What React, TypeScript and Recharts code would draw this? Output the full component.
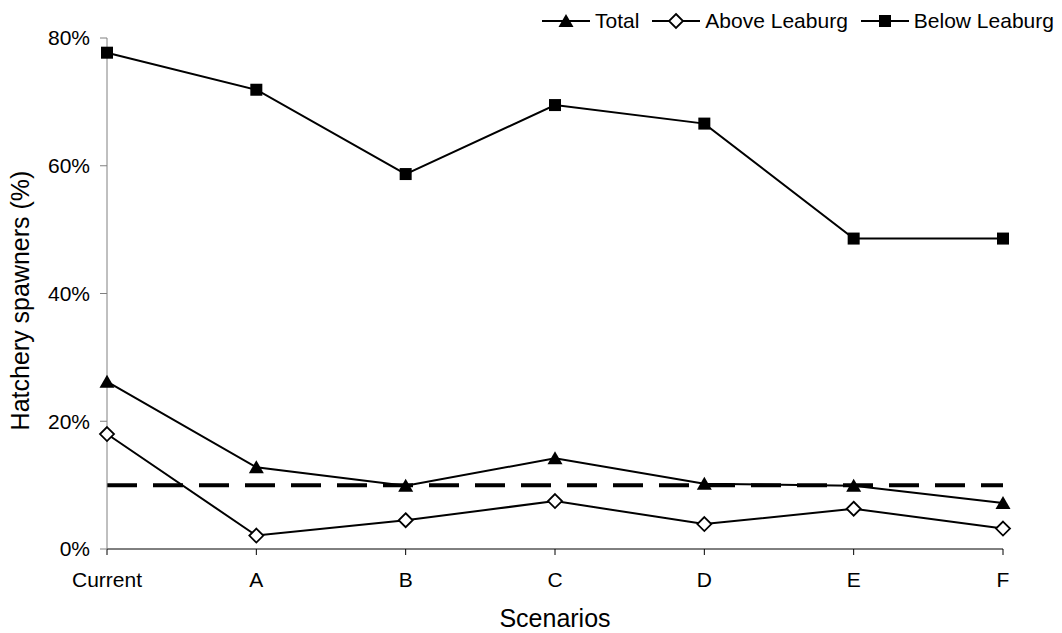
import React from "react"
import { LineChart, Line, XAxis, YAxis, ReferenceLine, Legend, Label } from "recharts"

const scenarios = ["Current", "A", "B", "C", "D", "E", "F"]
const total = [26.2, 12.8, 9.9, 14.2, 10.2, 9.9, 7.2]
const aboveLeaburg = [18.0, 2.1, 4.5, 7.5, 3.9, 6.3, 3.2]
const belowLeaburg = [77.7, 71.9, 58.7, 69.5, 66.6, 48.6, 48.6]
const yTicks = [0, 20, 40, 60, 80]
const target = 10

const data = scenarios.map((name, i) => ({
  name,
  total: total[i],
  above: aboveLeaburg[i],
  below: belowLeaburg[i],
}))

const FONT = "'Liberation Sans', Arial, Helvetica, sans-serif"

type Marker = "triangle" | "diamond" | "square"

function markerShape(kind: Marker, cx: number, cy: number, key?: string | number) {
  if (kind === "triangle") {
    return (
      <polygon
        key={key}
        points={`${cx},${cy - 7} ${cx + 7.5},${cy + 6} ${cx - 7.5},${cy + 6}`}
        fill="#000"
      />
    )
  }
  if (kind === "square") {
    return <rect key={key} x={cx - 6} y={cy - 6} width={12} height={12} fill="#000" />
  }
  return (
    <polygon
      key={key}
      points={`${cx},${cy - 7} ${cx + 7},${cy} ${cx},${cy + 7} ${cx - 7},${cy}`}
      fill="#fff"
      stroke="#000"
      strokeWidth={1.8}
    />
  )
}

const makeDot = (kind: Marker) => (props: any) => {
  const { cx, cy, index } = props
  if (cx == null || cy == null) return <g key={index} />
  return markerShape(kind, cx, cy, index)
}

const legendItems: { label: string; kind: Marker }[] = [
  { label: "Total", kind: "triangle" },
  { label: "Above Leaburg", kind: "diamond" },
  { label: "Below Leaburg", kind: "square" },
]

function LegendContent() {
  return (
    <div style={{ display: "flex", alignItems: "center", fontFamily: FONT, fontSize: 21, lineHeight: "24px", color: "#000" }}>
      {legendItems.map((it, i) => (
        <div key={it.label} style={{ display: "flex", alignItems: "center", marginLeft: i === 0 ? 0 : 13 }}>
          <svg width={48} height={20} style={{ display: "block" }}>
            <line x1={0} y1={10} x2={48} y2={10} stroke="#000" strokeWidth={2} />
            {markerShape(it.kind, 24, 10)}
          </svg>
          <span style={{ marginLeft: 5, whiteSpace: "nowrap" }}>{it.label}</span>
        </div>
      ))}
    </div>
  )
}

function YTitle(props: any) {
  const vb = props.viewBox || { x: 0, y: 0, width: 0, height: 0 }
  const x = vb.x + 13
  const y = vb.y + vb.height / 2 + 7
  return (
    <text
      x={x}
      y={y}
      transform={`rotate(-90 ${x} ${y})`}
      textAnchor="middle"
      dominantBaseline="central"
      fontFamily={FONT}
      fontSize={25}
      fill="#000"
    >
      Hatchery spawners (%)
    </text>
  )
}

export default function App() {
  return (
    <div style={{ position: "absolute", left: 0, top: 0, width: 1062, height: 633, background: "#fff" }}>
      <LineChart width={1062} height={633} data={data} margin={{ top: 38, right: 59, left: 7, bottom: 0 }}>
        <XAxis
          dataKey="name"
          height={84}
          interval={0}
          tickSize={6}
          tickMargin={17}
          axisLine={{ stroke: "#000", strokeWidth: 1 }}
          tickLine={{ stroke: "#000", strokeWidth: 1 }}
          tick={{ fill: "#000", fontSize: 21, fontFamily: FONT }}
        >
          <Label value="Scenarios" position="insideBottom" offset={6} fill="#000" fontSize={25} fontFamily={FONT} />
        </XAxis>
        <YAxis
          type="number"
          domain={[0, 80]}
          ticks={yTicks}
          width={100}
          tickSize={7}
          tickMargin={10}
          tickFormatter={(v: number) => `${v}%`}
          axisLine={{ stroke: "#808080", strokeWidth: 1 }}
          tickLine={{ stroke: "#808080", strokeWidth: 1 }}
          tick={{ fill: "#000", fontSize: 21, fontFamily: FONT }}
        >
          <Label content={<YTitle />} />
        </YAxis>
        <ReferenceLine y={target} stroke="#000" strokeWidth={4} strokeDasharray="30 16" />
        <Line
          dataKey="total"
          name="Total"
          stroke="#000"
          strokeWidth={2}
          type="linear"
          dot={makeDot("triangle")}
          isAnimationActive={false}
        />
        <Line
          dataKey="above"
          name="Above Leaburg"
          stroke="#000"
          strokeWidth={2}
          type="linear"
          dot={makeDot("diamond")}
          isAnimationActive={false}
        />
        <Line
          dataKey="below"
          name="Below Leaburg"
          stroke="#000"
          strokeWidth={2}
          type="linear"
          dot={makeDot("square")}
          isAnimationActive={false}
        />
        <Legend
          layout="horizontal"
          verticalAlign="middle"
          align="center"
          content={<LegendContent />}
          wrapperStyle={{ top: 9, left: 542, width: 520 }}
        />
      </LineChart>
    </div>
  )
}
